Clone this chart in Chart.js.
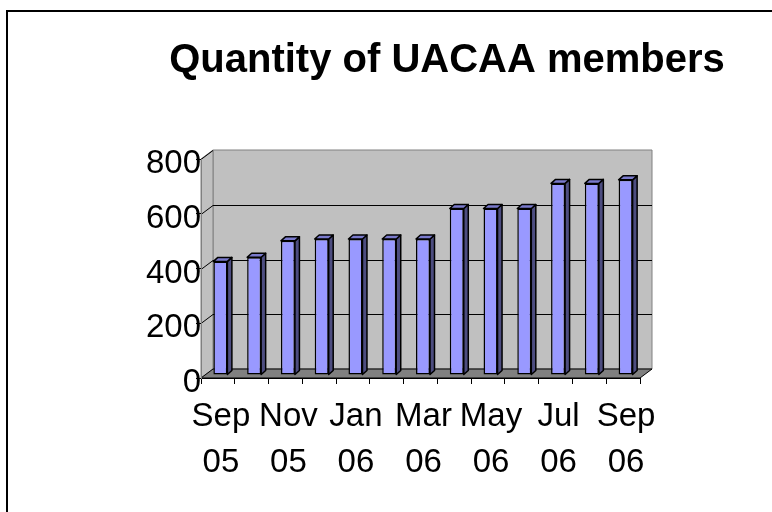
<!DOCTYPE html>
<html>
<head>
<meta charset="utf-8">
<script src="https://cdn.jsdelivr.net/npm/chart.js@4.4.1/dist/chart.umd.min.js"></script>
<style>
  html, body { margin: 0; padding: 0; background: #fff; }
  #wrap { width: 772px; height: 512px; }
</style>
</head>
<body>
<div id="wrap"><canvas id="memberChart" width="772" height="512"></canvas></div>
<script>
// --- DATA ---
const months = [['Sep','05'],['Oct','05'],['Nov','05'],['Dec','05'],['Jan','06'],['Feb','06'],['Mar','06'],
                ['Apr','06'],['May','06'],['Jun','06'],['Jul','06'],['Aug','06'],['Sep','06']];
const members = [415, 430, 490, 497, 497, 497, 497, 608, 608, 608, 700, 700, 713];
const yTicks = [0, 200, 400, 600, 800];
const titleText = 'Quantity of UACAA members';

const FONT = '"Liberation Sans", Arial, sans-serif';

// --- 3D LOOK (old office style box + bars) ---
const DX = 12, DY = 9;       // depth of the box
const BX = 2.5, BY = 3;      // bar front face sits a little inside the box
const BD = 4.5, BH = 4;      // depth of each bar

function poly(ctx, pts, fill, stroke) {
  ctx.beginPath();
  ctx.moveTo(pts[0][0], pts[0][1]);
  for (let i = 1; i < pts.length; i++) ctx.lineTo(pts[i][0], pts[i][1]);
  ctx.closePath();
  if (fill) { ctx.fillStyle = fill; ctx.fill(); }
  if (stroke) { ctx.strokeStyle = stroke; ctx.stroke(); }
}

const box3d = {
  id: 'box3d',
  beforeDraw(chart) {
    const { ctx, chartArea: a, scales: { y } } = chart;
    ctx.save();
    ctx.fillStyle = '#fff';
    ctx.fillRect(0, 0, chart.width, chart.height);

    // outer frame
    ctx.strokeStyle = '#000'; ctx.lineWidth = 2;
    ctx.strokeRect(7, 11, 900, 700);

    // title
    ctx.fillStyle = '#000';
    ctx.font = 'bold 40px ' + FONT;
    ctx.textAlign = 'center'; ctx.textBaseline = 'alphabetic';
    ctx.fillText(titleText, 447, 72);

    ctx.lineWidth = 1;
    // back wall
    poly(ctx, [[a.left + DX, a.top - DY], [a.right + DX, a.top - DY], [a.right + DX, a.bottom - DY], [a.left + DX, a.bottom - DY]], '#c0c0c0', '#808080');
    // left wall
    poly(ctx, [[a.left, a.top], [a.left + DX, a.top - DY], [a.left + DX, a.bottom - DY], [a.left, a.bottom]], '#c0c0c0', '#808080');
    // floor
    poly(ctx, [[a.left, a.bottom], [a.left + DX, a.bottom - DY], [a.right + DX, a.bottom - DY], [a.right, a.bottom]], '#808080', '#000');

    // gridlines on back wall + diagonals on left wall
    ctx.strokeStyle = '#000';
    yTicks.forEach(v => {
      const py = Math.round(y.getPixelForValue(v)) + 0.5;
      if (v > 0 && v < 800) {
        ctx.beginPath(); ctx.moveTo(a.left + DX, py - DY); ctx.lineTo(a.right + DX, py - DY); ctx.stroke();
      }
      if (v > 0) {
        ctx.beginPath(); ctx.moveTo(a.left, py); ctx.lineTo(a.left + DX, py - DY); ctx.stroke();
      }
    });
    ctx.restore();
  },
  beforeDatasetsDraw(chart) {
    chart.ctx.save();
    chart.ctx.translate(BX, -BY);
  },
  afterDatasetsDraw(chart) {
    const ctx = chart.ctx;
    ctx.lineWidth = 1.5;
    ctx.lineJoin = 'round';
    chart.getDatasetMeta(0).data.forEach(bar => {
      const { x, y, base, width } = bar.getProps(['x', 'y', 'base', 'width'], true);
      const l = x - width / 2, r = x + width / 2;
      poly(ctx, [[r, y], [r + BD, y - BH], [r + BD, base - BH], [r, base]], '#4d4d80', '#000');
      poly(ctx, [[l, y], [l + BD, y - BH], [r + BD, y - BH], [r, y]], '#7a7acc', '#000');
    });
    ctx.restore();
  }
};

new Chart(document.getElementById('memberChart'), {
  type: 'bar',
  data: {
    labels: months,
    datasets: [{
      data: members,
      backgroundColor: '#9999ff',
      borderColor: '#000',
      borderWidth: 1.5,
      borderSkipped: false,
      barPercentage: 0.415,
      categoryPercentage: 1
    }]
  },
  options: {
    responsive: false,
    animation: false,
    devicePixelRatio: 1,
    layout: { padding: { top: 159, right: 132, left: 0, bottom: 0 } },
    plugins: { legend: { display: false }, tooltip: { enabled: false }, title: { display: false } },
    scales: {
      x: {
        afterFit: s => { s.height = 134; },
        grid: { display: true, drawOnChartArea: false, drawTicks: true, tickLength: 6, color: '#000', offset: true },
        border: { display: true, color: '#000', width: 1 },
        ticks: {
          autoSkip: false, maxRotation: 0, minRotation: 0,
          padding: 9, labelOffset: 3,
          color: '#000',
          font: { family: FONT, size: 33, lineHeight: 1.42 },
          callback: (val, i) => (i % 2 === 0 ? months[i] : '')
        }
      },
      y: {
        min: 0, max: 800,
        afterFit: s => { s.width = 201; },
        afterBuildTicks: s => { s.ticks = yTicks.map(v => ({ value: v })); },
        grid: { display: true, drawOnChartArea: false, drawTicks: true, tickLength: 5, color: '#000' },
        border: { display: true, color: '#808080', width: 1 },
        ticks: {
          padding: -5, labelOffset: 5,
          color: '#000',
          font: { family: FONT, size: 33 }
        }
      }
    }
  },
  plugins: [box3d]
});
</script>
</body>
</html>
